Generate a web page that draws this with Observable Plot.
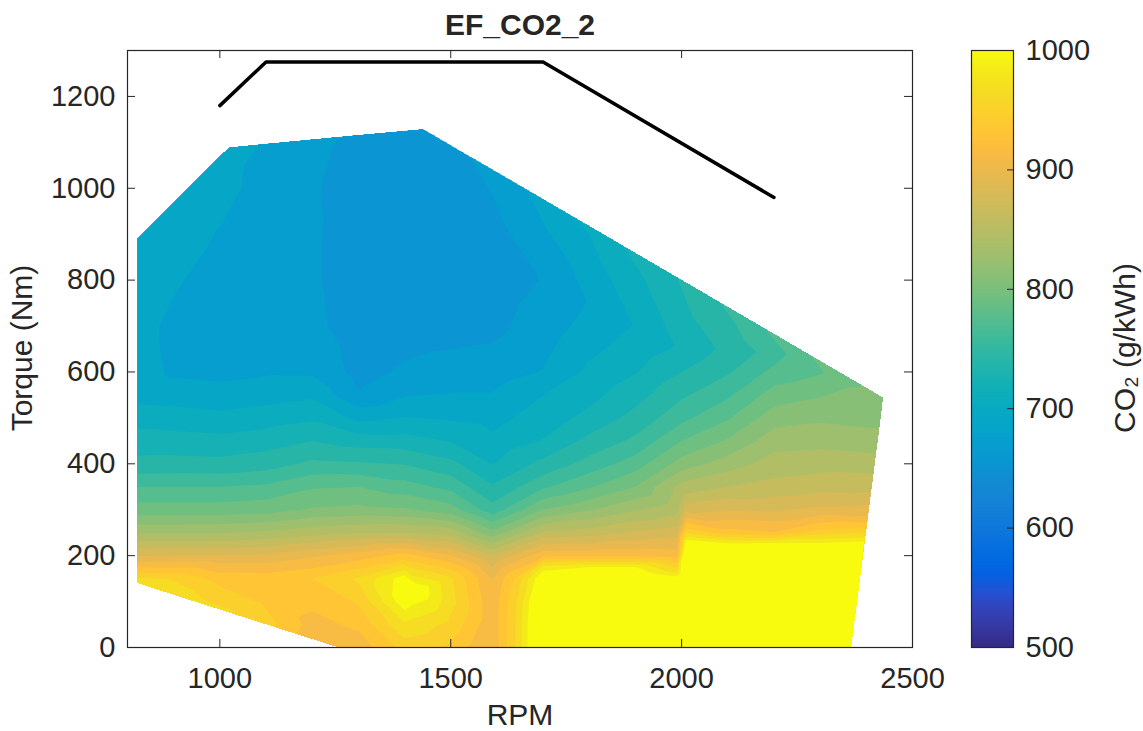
<!DOCTYPE html>
<html><head><meta charset="utf-8">
<script src="https://cdn.jsdelivr.net/npm/d3@7"></script>
<script src="https://cdn.jsdelivr.net/npm/@observablehq/plot@0.6"></script>
<style>
body{margin:0;background:#fff;}
#wrap{position:relative;width:1143px;height:731px;overflow:hidden;font-family:"Liberation Sans",Arial,Helvetica,sans-serif;color:#262626;}
#wrap svg{position:absolute;top:0;max-width:none;z-index:1;}
.lbl{position:absolute;white-space:nowrap;font-size:30px;line-height:28px;z-index:2;}
</style></head><body>
<div id="wrap">
  <div class="lbl" style="font-weight:bold;left:520px;top:11px;transform:translateX(-50%);">EF_CO2_2</div>
  <div class="lbl" style="left:520px;top:701px;transform:translateX(-50%);">RPM</div>
  <div class="lbl" style="left:22px;top:348px;transform:translate(-50%,-50%) rotate(-90deg);">Torque (Nm)</div>
  <div class="lbl" style="left:1125px;top:348px;transform:translate(-50%,-50%) rotate(-90deg);">CO₂ (g/kWh)</div>
</div>
<script>
// ---------- data ----------
// scattered samples of the CO2 map (rpm, torque in Nm, CO2 in g/kWh)
const sampleRpm = [
  // bottom-left edge
  820, 900, 1000, 1100, 1180, 1255,
  // bottom row
  1300, 1400, 1500, 1560, 1590, 1640, 1700, 1800, 1900, 1990, 2010, 2100, 2200, 2300, 2368,
  // right edge
  2380, 2390, 2395, 2400, 2404, 2409, 2420, 2432, 2437,
  // top edge
  2405, 2370, 2280, 2180, 2084, 1991, 1874, 1774, 1666, 1590, 1543, 1500, 1440, 1370, 1298, 1200, 1100, 1020, 920, 820,
  // 820 column
  820, 820, 820, 820, 820, 820, 820, 820, 820, 820, 820, 820,
  // 900
  900, 900, 900, 900, 900, 900, 900, 900, 900, 900, 900, 900, 900,
  // 1000
  1000, 1000, 1000, 1000, 1000, 1000, 1000, 1000, 1000, 1000, 1000, 1000, 1000, 1000, 1000,
  // 1100
  1100, 1100, 1100, 1100, 1100, 1100, 1100, 1100, 1100, 1100, 1100, 1100, 1100, 1100, 1100,
  // 1200
  1200, 1200, 1200, 1200, 1200, 1200, 1200, 1200, 1200, 1200, 1200, 1200, 1200, 1200, 1200, 1200,
  // 1300
  1300, 1300, 1300, 1300, 1300, 1300, 1300, 1300, 1300, 1300, 1300, 1300, 1300, 1300, 1300, 1300, 1300,
  // 1400 (+ blob centre)
  1400, 1400, 1400, 1400, 1400, 1400, 1400, 1400, 1400, 1400, 1400, 1400, 1400, 1400, 1400, 1400, 1400, 1430,
  // 1500
  1500, 1500, 1500, 1500, 1500, 1500, 1500, 1500, 1500, 1500, 1500, 1500, 1500, 1500, 1500, 1500,
  // 1590
  1590, 1590, 1590, 1590, 1590, 1590, 1590, 1590, 1590, 1590, 1590, 1590, 1590, 1590, 1590, 1590,
  // 1640
  1640, 1640, 1640,
  // 1700
  1700, 1700, 1700, 1700, 1700, 1700, 1700, 1700, 1700, 1700, 1700, 1700, 1700, 1700, 1700, 1700,
  // 1800
  1800, 1800, 1800, 1800, 1800, 1800, 1800, 1800, 1800, 1800, 1800, 1800, 1800, 1800, 1800, 1800, 1800, 1800,
  // 1900
  1900, 1900, 1900, 1900, 1900, 1900, 1900, 1900, 1900, 1900, 1900, 1900, 1900, 1900, 1900, 1900,
  // 1990
  1990, 1990, 1990, 1990, 1990, 1990, 1990,
  // 2000
  2000, 2000, 2000, 2000, 2000, 2000, 2000, 2000, 2000,
  // 2010
  2010, 2010, 2010, 2010, 2010, 2010, 2010,
  // 2100
  2100, 2100, 2100, 2100, 2100, 2100, 2100, 2100, 2100, 2100, 2100, 2100, 2100, 2100, 2100,
  // 2200
  2200, 2200, 2200, 2200, 2200, 2200, 2200, 2200, 2200, 2200, 2200, 2200, 2200, 2200,
  // 2300
  2300, 2300, 2300, 2300, 2300, 2300, 2300, 2300, 2300, 2300, 2300, 2300, 2300
];
const sampleTorque = [
  140, 114, 82, 50, 24, 0,
  0, 0, 0, 0, 0, 0, 0, 0, 0, 0, 0, 0, 0, 0, 0,
  100, 170, 230, 255, 280, 330, 420, 500, 544,
  563, 582, 635, 694, 750, 804, 873, 931, 994, 1039, 1066, 1092, 1130, 1123, 1117, 1107, 1098, 1090, 990, 890,
  150, 200, 250, 300, 350, 400, 450, 500, 550, 600, 700, 800,
  150, 200, 250, 300, 350, 400, 450, 500, 550, 600, 700, 800, 900,
  100, 150, 200, 250, 300, 350, 400, 450, 500, 550, 600, 700, 800, 900, 1000,
  100, 150, 200, 250, 300, 350, 400, 450, 500, 550, 600, 700, 800, 900, 1000,
  50, 100, 150, 200, 250, 300, 350, 400, 450, 500, 550, 600, 700, 800, 900, 1000,
  50, 100, 150, 200, 250, 300, 350, 400, 450, 500, 550, 600, 700, 800, 900, 1000, 1100,
  50, 100, 150, 200, 250, 300, 350, 400, 450, 500, 550, 600, 700, 800, 900, 1000, 1100, 125,
  50, 100, 150, 200, 250, 300, 350, 400, 450, 500, 550, 600, 700, 800, 900, 1000,
  50, 100, 150, 200, 250, 300, 350, 400, 450, 500, 550, 600, 700, 800, 900, 1000,
  50, 100, 150,
  50, 100, 150, 175, 200, 250, 300, 350, 400, 450, 500, 550, 600, 700, 800, 900,
  50, 100, 150, 175, 200, 250, 300, 350, 400, 450, 500, 550, 600, 650, 700, 750, 800, 900,
  50, 100, 150, 175, 200, 250, 300, 350, 400, 450, 500, 550, 600, 650, 700, 800,
  50, 100, 150, 175, 200, 250, 300,
  350, 400, 450, 500, 550, 600, 650, 700, 750,
  50, 100, 150, 200, 233, 250, 300,
  50, 100, 150, 200, 226, 250, 300, 350, 400, 450, 500, 550, 600, 650, 700,
  50, 100, 150, 200, 226, 250, 300, 350, 400, 450, 500, 550, 600, 640,
  50, 100, 150, 200, 226, 250, 300, 350, 400, 450, 500, 550, 600
];
const sampleCo2 = [
  985, 978, 970, 955, 925, 918,
  920, 955, 945, 922, 918, 965, 1045, 1050, 1050, 1055, 1065, 1070, 1070, 1060, 1040,
  1030, 1010, 1002, 955, 918, 882, 845, 820, 815,
  812, 806, 792, 775, 758, 740, 723, 706, 689, 677, 671, 666, 662, 664, 670, 677, 688, 694, 697, 697,
  968, 895, 842, 800, 775, 745, 731, 716, 700, 697, 697, 697,
  962, 896, 842, 800, 775, 746, 730, 714, 698, 686, 684, 692, 697,
  958, 943, 897, 843, 800, 775, 745, 728, 711, 695, 684, 680, 679, 688, 695,
  945, 940, 900, 847, 803, 778, 750, 732, 715, 699, 687, 679, 677, 679, 682,
  925, 935, 948, 910, 855, 812, 790, 762, 740, 720, 703, 686, 676, 674, 674, 673,
  935, 950, 968, 922, 860, 815, 792, 760, 732, 702, 673, 665, 661, 660, 660, 662, 665,
  980, 1012, 1010, 938, 862, 812, 782, 757, 730, 707, 688, 674, 662, 658, 658, 660, 662, 1015,
  960, 972, 968, 915, 855, 800, 770, 745, 722, 704, 690, 678, 664, 659, 659, 662,
  918, 918, 912, 880, 815, 765, 742, 722, 710, 700, 690, 680, 666, 661, 663, 672,
  965, 962, 950,
  1045, 1040, 1020, 990, 925, 865, 810, 772, 745, 724, 714, 706, 690, 680, 672, 686,
  1050, 1048, 1025, 1000, 925, 870, 825, 790, 765, 745, 728, 718, 710, 702, 695, 690, 695, 706,
  1050, 1050, 1030, 1000, 925, 882, 842, 810, 783, 762, 746, 733, 722, 714, 707, 718,
  1055, 1052, 1008, 962, 922, 888, 855,
  850, 818, 792, 770, 755, 740, 726, 732, 737,
  1065, 1065, 1060, 1045, 1003, 962, 888,
  1070, 1070, 1065, 1040, 1002, 938, 895, 862, 835, 812, 790, 772, 756, 745, 752,
  1070, 1070, 1068, 1045, 1003, 932, 893, 868, 852, 836, 820, 800, 780, 766,
  1060, 1060, 1058, 1040, 1003, 955, 900, 872, 855, 838, 824, 808, 790
];
// full-load torque curve (black line)
const limitRpm = [1000, 1100, 1700, 2200];
const limitTorque = [1180, 1275, 1275, 980];
// contour levels and ticks
const levels = [654, 671, 689, 706, 723, 740, 758, 775, 792, 810, 827, 844, 862, 879, 896, 913, 931, 948, 965, 983, 1000];
const xTicks = [1000, 1500, 2000, 2500];
const yTicks = [0, 200, 400, 600, 800, 1000, 1200];
const cbTicks = [500, 600, 700, 800, 900, 1000];

// ---------- MATLAB parula colormap ----------
const PARULA = [
[0.2081,0.1663,0.5292],[0.2116,0.1898,0.5777],[0.2123,0.2138,0.6270],[0.2081,0.2386,0.6771],
[0.1959,0.2645,0.7279],[0.1707,0.2919,0.7792],[0.1253,0.3242,0.8303],[0.0591,0.3598,0.8683],
[0.0117,0.3875,0.8820],[0.0060,0.4086,0.8828],[0.0165,0.4266,0.8786],[0.0329,0.4430,0.8720],
[0.0498,0.4586,0.8641],[0.0629,0.4737,0.8554],[0.0723,0.4887,0.8467],[0.0779,0.5040,0.8384],
[0.0793,0.5200,0.8312],[0.0749,0.5375,0.8263],[0.0641,0.5570,0.8240],[0.0488,0.5772,0.8228],
[0.0343,0.5966,0.8199],[0.0265,0.6137,0.8135],[0.0239,0.6287,0.8038],[0.0231,0.6418,0.7913],
[0.0228,0.6535,0.7768],[0.0267,0.6642,0.7607],[0.0384,0.6743,0.7436],[0.0590,0.6838,0.7254],
[0.0843,0.6928,0.7062],[0.1133,0.7015,0.6859],[0.1453,0.7098,0.6646],[0.1801,0.7177,0.6424],
[0.2178,0.7250,0.6193],[0.2586,0.7317,0.5954],[0.3022,0.7376,0.5712],[0.3482,0.7424,0.5473],
[0.3953,0.7459,0.5244],[0.4420,0.7481,0.5033],[0.4871,0.7491,0.4840],[0.5300,0.7491,0.4661],
[0.5709,0.7485,0.4494],[0.6099,0.7473,0.4337],[0.6473,0.7456,0.4188],[0.6834,0.7435,0.4044],
[0.7184,0.7411,0.3905],[0.7525,0.7384,0.3768],[0.7858,0.7356,0.3633],[0.8185,0.7327,0.3498],
[0.8507,0.7299,0.3360],[0.8824,0.7274,0.3217],[0.9139,0.7258,0.3063],[0.9450,0.7261,0.2886],
[0.9739,0.7314,0.2666],[0.9938,0.7455,0.2403],[0.9990,0.7653,0.2164],[0.9955,0.7861,0.1967],
[0.9880,0.8066,0.1794],[0.9789,0.8271,0.1633],[0.9697,0.8481,0.1475],[0.9626,0.8705,0.1309],
[0.9589,0.8949,0.1132],[0.9598,0.9218,0.0948],[0.9661,0.9514,0.0755],[0.9763,0.9831,0.0538]];
const parula = d3.piecewise(d3.interpolateRgb, PARULA.map(([r, g, b]) => d3.rgb(r * 255, g * 255, b * 255).toString()));
const colorScale = {type: "linear", domain: [500, 1000], interpolate: parula, clamp: true};

const points = sampleRpm.map((r, i) => ({rpm: r, torque: sampleTorque[i], co2: sampleCo2[i]}));
const limit = limitRpm.map((r, i) => ({rpm: r, torque: limitTorque[i]}));

// barycentric interpolation, blank outside the convex hull of the samples (like griddata)
const barycentric = Plot.interpolatorBarycentric();
function hullMasked(index, width, height, X, Y, V) {
  const W = barycentric(index, width, height, X, Y, V);
  const hull = d3.polygonHull(Array.from(index, (i) => [X[i], Y[i]]));
  for (let j = 0; j < height; ++j) {
    for (let i = 0; i < width; ++i) {
      if (!d3.polygonContains(hull, [i + 0.5, j + 0.5])) W[j * width + i] = NaN;
    }
  }
  return W;
}

const ink = "#262626";
const font = '"Liberation Sans", Arial, Helvetica, sans-serif';
const style = {background: "transparent", fontFamily: font, fontSize: "29px", color: ink, overflow: "visible"};

const W = 960, H = 731, mL = 127, mR = 48, mT = 50, mB = 84;
const fw = W - mL - mR, fh = H - mT - mB, TL = 8;

const main = Plot.plot({
  width: W, height: H, marginLeft: mL, marginRight: mR, marginTop: mT, marginBottom: mB,
  style,
  x: {domain: [800, 2500], label: null},
  y: {domain: [0, 1300], label: null},
  color: colorScale,
  marks: [
    Plot.contour(points, {x: "rpm", y: "torque", fill: "co2", thresholds: levels, interpolate: hullMasked, pixelSize: 1, stroke: "none"}),
    Plot.line(limit, {x: "rpm", y: "torque", stroke: "black", strokeWidth: 3.5}),
    Plot.tickX(xTicks, {x: (d) => d, insetTop: fh - TL, stroke: ink}),
    Plot.tickX(xTicks, {x: (d) => d, insetBottom: fh - TL, stroke: ink}),
    Plot.tickY(yTicks, {y: (d) => d, insetRight: fw - TL, stroke: ink}),
    Plot.tickY(yTicks, {y: (d) => d, insetLeft: fw - TL, stroke: ink}),
    Plot.frame({stroke: ink, strokeWidth: 1.2}),
    Plot.axisX({ticks: xTicks, tickSize: 0, tickPadding: 20, tickFormat: (d) => String(d), fontSize: 29, label: null}),
    Plot.axisY({ticks: yTicks, tickSize: 0, tickPadding: 12, tickFormat: (d) => String(d), fontSize: 29, label: null})
  ]
});
main.style.left = "0px";

const cbW = 183, cbL = 11, cbR = 130, cbFw = cbW - cbL - cbR;
const bar = Plot.plot({
  width: cbW, height: H, marginLeft: cbL, marginRight: cbR, marginTop: mT, marginBottom: mB,
  style,
  x: {domain: [0, 1], axis: null},
  y: {domain: [500, 1000], label: null},
  color: colorScale,
  marks: [
    Plot.raster({fill: (x, y) => y, x1: 0, x2: 1, y1: 500, y2: 1000, pixelSize: 1}),
    Plot.tickY(cbTicks, {y: (d) => d, insetLeft: cbFw - 6, stroke: ink}),
    Plot.frame({stroke: ink, strokeWidth: 1.2}),
    Plot.axisY({anchor: "right", ticks: cbTicks, tickSize: 0, tickPadding: 12, tickFormat: (d) => String(d), fontSize: 29, label: null})
  ]
});
bar.style.left = "960px";

const wrap = document.getElementById("wrap");
wrap.prepend(bar);
wrap.prepend(main);
</script>
</body></html>
